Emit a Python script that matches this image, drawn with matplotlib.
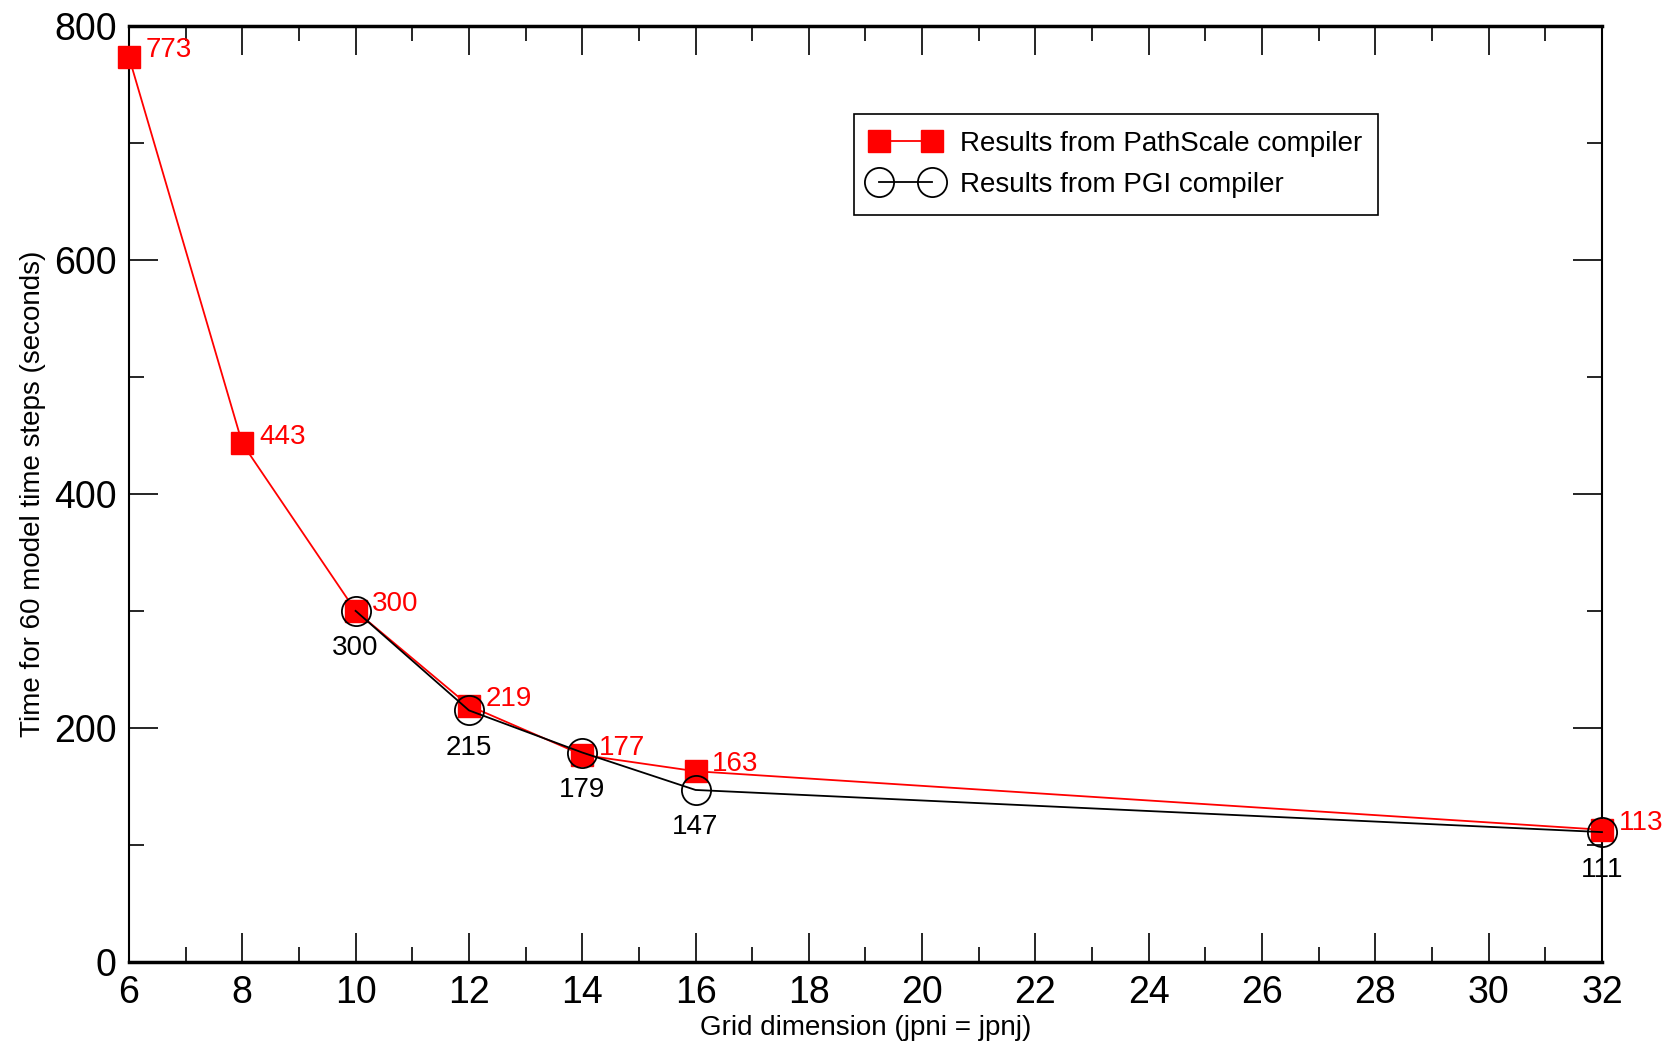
import matplotlib
matplotlib.use("Agg")
import matplotlib.pyplot as plt
from matplotlib.ticker import MultipleLocator

plt.rcParams['font.family'] = ['Liberation Sans', 'DejaVu Sans']

# Data
ps_x = [6, 8, 10, 12, 14, 16, 32]
ps_y = [773, 443, 300, 219, 177, 163, 113]
pgi_x = [10, 12, 14, 16, 32]
pgi_y = [300, 215, 179, 147, 111]
ps_label = "Results from PathScale compiler"
pgi_label = "Results from PGI compiler"
x_label = "Grid dimension (jpni = jpnj)"
y_label = "Time for 60 model time steps (seconds)"

fig = plt.figure(figsize=(16.71, 10.45), dpi=100)
ax = fig.add_axes([0.0772, 0.0794, 0.8815, 0.8961])

ax.plot(ps_x, ps_y, color='red', lw=1.3, marker='s', ms=16.5, mfc='red', mec='red',
        label=ps_label, zorder=3, clip_on=False)
ax.plot(pgi_x, pgi_y, color='black', lw=1.3, marker='o', ms=21, mfc='none', mec='black',
        mew=1.3, label=pgi_label, zorder=4, clip_on=False)

for x, y in zip(ps_x, ps_y):
    ax.annotate(str(y), (x, y), xytext=(12, 5), textcoords='offset points',
                color='red', fontsize=20, ha='left', va='center', zorder=5)
for x, y in zip(pgi_x, pgi_y):
    ax.annotate(str(y), (x, y), xytext=(0, -27), textcoords='offset points',
                color='black', fontsize=20, ha='center', va='center', zorder=5)

ax.set_xlim(6, 32)
ax.set_ylim(0, 800)
ax.xaxis.set_major_locator(MultipleLocator(2))
ax.xaxis.set_minor_locator(MultipleLocator(1))
ax.yaxis.set_major_locator(MultipleLocator(200))
ax.yaxis.set_minor_locator(MultipleLocator(100))
ax.tick_params(which='both', direction='in', top=True, right=True, width=1.2)
ax.tick_params(which='major', length=21, labelsize=27, pad=9)
ax.tick_params(which='minor', length=10.5)
for s in ax.spines.values():
    s.set_linewidth(1.5)
ax.spines['top'].set_linewidth(2.5)
ax.spines['bottom'].set_linewidth(2.5)

ax.set_xlabel(x_label, fontsize=20, labelpad=3)
ax.set_ylabel(y_label, fontsize=20, labelpad=6)

leg = ax.legend(loc='upper left', bbox_to_anchor=(0.4922, 0.9056), fontsize=20,
                frameon=True, fancybox=False, edgecolor='black', framealpha=1,
                numpoints=2, handlelength=2.5, borderpad=0.6, labelspacing=0.55,
                handletextpad=0.7, borderaxespad=0)
leg.get_frame().set_linewidth(1.2)

fig.savefig("out.png", dpi=100)
